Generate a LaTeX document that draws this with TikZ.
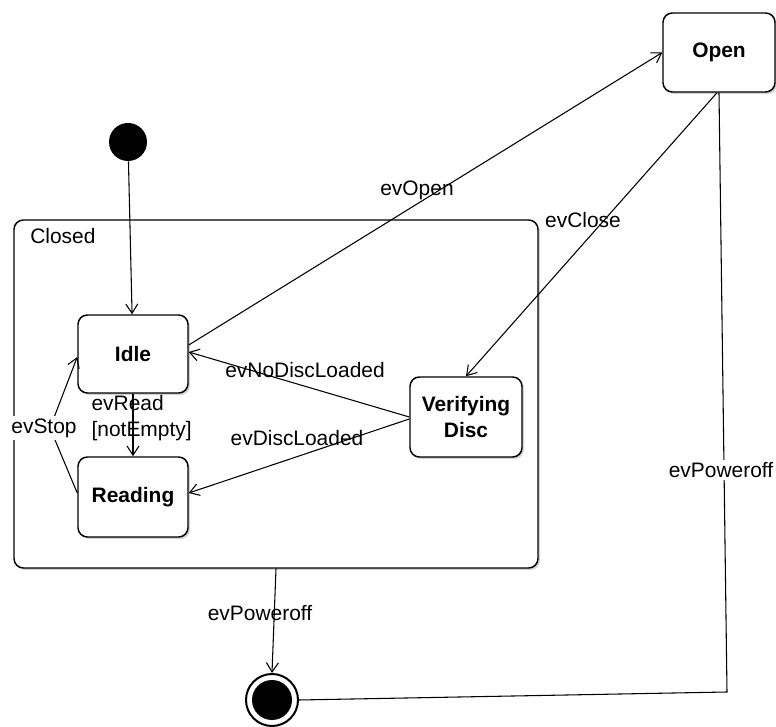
\documentclass[tikz,border=0pt]{standalone}
\usepackage{fontspec}
\setmainfont{Liberation Sans}
\usetikzlibrary{arrows.meta,shadows,calc}
\begin{document}
\begin{tikzpicture}[x=0.75pt,y=-0.75pt,
  font=\fontsize{15.7}{20}\selectfont,
  >={Straight Barb[length=7pt,width=9pt]},
  state/.style={draw,line width=1.1pt,rounded corners=7pt,fill=white,
    font=\fontsize{15.7}{20}\selectfont\bfseries,align=center,
    drop shadow={shadow xshift=1.5pt,shadow yshift=-1.5pt,opacity=0.35}},
  conn/.style={draw,line width=0.8pt},
  lbl/.style={inner sep=1pt},
  lblw/.style={inner sep=2pt,fill=white}]
\useasboundingbox (0,0) rectangle (776,727);
% composite state
\node[state,minimum width=393pt,minimum height=261pt] (closed) at (276,394) {};
\node[anchor=west,inner sep=0pt] (closedlbl) at (30,236) {Closed};
% simple states
\node[state,minimum width=84pt,minimum height=59.25pt] (open) at (719,52.5) {Open};
\node[state,minimum width=82.5pt,minimum height=58.5pt] (idle) at (133,354) {Idle};
\node[state,minimum width=82.5pt,minimum height=60pt] (reading) at (133,497) {Reading};
\node[state,minimum width=84pt,minimum height=60pt] (verif) at (466,417) {Verifying\\Disc};
% pseudo states
\node[circle,fill=black,minimum size=28.5pt,inner sep=0pt] (init) at (128,142) {};
\node[circle,draw,line width=1.5pt,fill=white,minimum size=39pt,inner sep=0pt] (final) at (272,700) {};
\node[circle,fill=black,minimum size=30pt,inner sep=0pt] (finalin) at (272,700) {};
\coordinate (corner) at (727,692);
\coordinate (stopbend) at (50,428);
% connectors
\draw[conn,->] (init) -- (idle);
\draw[conn,->] ($(idle.east)+(0,-9)$) -- (open.west);
\draw[conn,->] ($(open.south)+(-2,0)$) -- (verif.north);
\draw[conn] (open.south) -- (corner) -- (final.east);
\draw[conn,->] (closed.south) -- (final.north);
\draw[conn,->] (verif.west) -- ($(idle.east)+(0,-2)$);
\draw[conn,->] ($(verif.west)+(0,2)$) -- ($(reading.east)+(0,-4)$);
\draw[conn,->] (idle.south) -- (reading.north);
\draw[conn,->] ($(reading.west)+(0,-4)$) -- (stopbend) -- ($(idle.west)+(0,3)$);
% labels
\node[lbl] (lopen) at (417,190) {evOpen};
\node[lbl] (lclose) at (583,220) {evClose};
\node[lblw] (lpoff1) at (721,470) {evPoweroff};
\node[lbl] (lpoff2) at (260,613) {evPoweroff};
\node[lbl] (lnodisc) at (305,370) {evNoDiscLoaded};
\node[lbl] (ldisc) at (297,438) {evDiscLoaded};
\node[lbl,anchor=west,align=left] (lread) at (90,418) {evRead\\{}[notEmpty]};
\node[lblw] (lstop) at (44,428) {evStop};
\end{tikzpicture}
\end{document}
